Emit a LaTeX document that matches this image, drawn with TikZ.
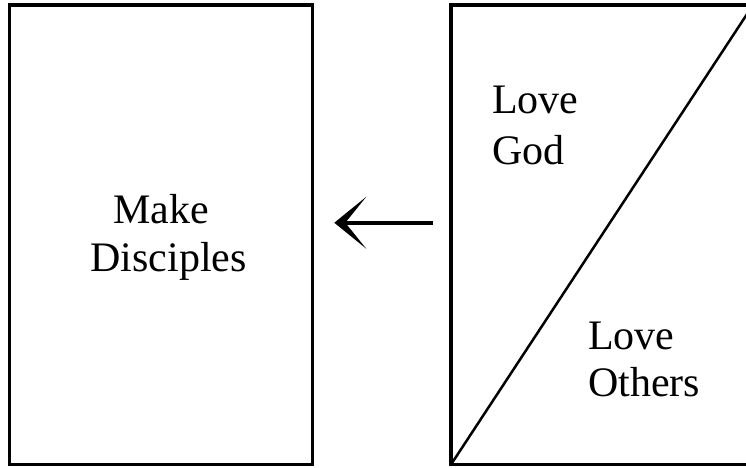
\documentclass[tikz,border=0pt]{standalone}
\usepackage{fontspec}
\setmainfont{Liberation Serif}
\usetikzlibrary{arrows.meta}
\tikzset{
	box/.style={draw, line width=3.5pt, inner sep=0pt, outer sep=0pt, minimum height=459.5pt},
	lbl/.style={font=\fontsize{42}{48}\selectfont, inner sep=0pt}
}
\begin{document}
\begin{tikzpicture}[x=1pt, y=1pt]
			%%%%% START %%%%%
			\useasboundingbox (0, 0) rectangle (746, 467);
			
			\node[box, minimum width=303pt] (disciples) at (161, 232.25) {};
			\node[box, minimum width=302pt] (love) at (602, 232.25) {};
			\draw[line width=2.5pt] (love.south west) -- (love.north east);
			
			\node[lbl, anchor=base] (make) at (161, 244) {Make};
			\node[lbl, anchor=base] (disc) at (168.5, 196) {Disciples};
			
			\node[lbl, anchor=base west] (lovea) at (492, 354) {Love};
			\node[lbl, anchor=base west] (god) at (492, 303) {God};
			\node[lbl, anchor=base west] (loveb) at (588, 118) {Love};
			\node[lbl, anchor=base west] (others) at (588, 71) {Others};
			
			\coordinate (from) at ([xshift=-18pt, yshift=12pt]love.west);
			\coordinate (to) at ([xshift=21.8pt, yshift=12pt]disciples.east);
			\draw[line width=4pt, -{Stealth[length=32pt, width=52pt, inset=21pt, line width=1.2pt]}] (from) -- (to);
			%%%%% END %%%%%
\end{tikzpicture}
\end{document}
